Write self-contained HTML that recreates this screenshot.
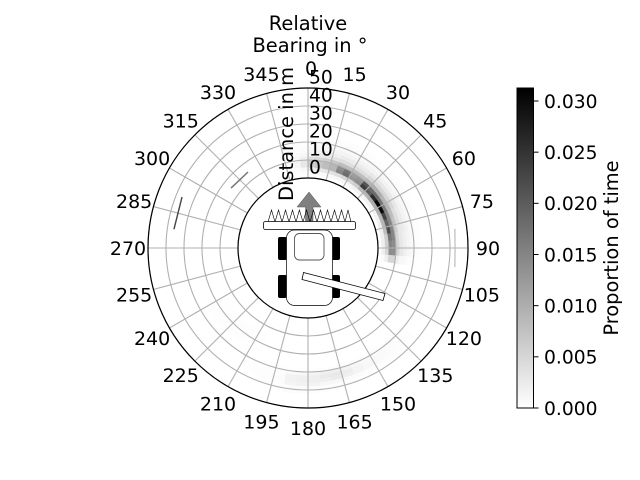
<!DOCTYPE html>
<html>
<head>
<meta charset="utf-8">
<title>Relative bearing and distance heatmap</title>
<style>
html,body{margin:0;padding:0;background:#fff;width:640px;height:480px;overflow:hidden}
svg{display:block}
text{font-family:"DejaVu Sans","Liberation Sans",sans-serif;font-size:19.44px;fill:#000}
.angle{font-size:19px}
.tick{font-size:18.7px}
</style>
</head>
<body>
<svg id="chart" width="640" height="480" viewBox="0 0 640 480">
<defs>
<linearGradient id="cbGrad" x1="0" y1="1" x2="0" y2="0">
<stop offset="0" stop-color="#ffffff"/>
<stop offset="1" stop-color="#000000"/>
</linearGradient>
</defs>
<g id="heat"></g>
<g id="grid"></g>
<g id="targets"></g>
<circle cx="308" cy="248" r="160" fill="none" stroke="#000" stroke-width="1.2"/>
<circle cx="308" cy="248" r="70" fill="#fff" stroke="#000" stroke-width="1.2"/>
<g id="vehicle">
<polygon points="309,192 321,207 313,207 313,221 305.500,221 305.500,207 297,207" fill="#808080" stroke="#555" stroke-width="0.5"/>
<polyline points="268,222 271.500,210 275,222 278.500,210 282,222 285.500,210 289,222 292.500,210 296,222 299.400,210 303,222 306.500,210 310,222 313.500,210 317,222 320.500,210 324,222 327.500,210 331,222 334.500,210 338,222 341.500,210 345,222 348,210 351,222" fill="none" stroke="#000" stroke-width="0.6"/>
<rect x="263.500" y="221.500" width="92" height="8" rx="2" fill="#fff" stroke="#000" stroke-width="0.8"/>
<rect x="278" y="237" width="9" height="23" rx="2" fill="#000"/>
<rect x="331" y="237" width="9" height="23" rx="2" fill="#000"/>
<rect x="278" y="275" width="9" height="23" rx="2" fill="#000"/>
<rect x="331" y="275" width="9" height="23" rx="2" fill="#000"/>
<rect x="286.500" y="230" width="46" height="75.500" rx="8" fill="#fff" stroke="#000" stroke-width="0.7"/>
<rect x="294.500" y="233.500" width="29.500" height="26.500" rx="5" fill="#fff" stroke="#555" stroke-width="0.9"/>
<polygon points="303.500,272.500 385,293.500 383,300.500 302,279.500" fill="#fff" stroke="#000" stroke-width="0.8"/>
</g>
<g id="angle-labels"></g>
<g id="radial-labels"></g>
<text x="308" y="30" text-anchor="middle">Relative</text>
<text x="310" y="52" text-anchor="middle">Bearing in °</text>
<text transform="translate(293,134) rotate(-90)" text-anchor="middle">Distance in m</text>
<rect x="517" y="88" width="16.500" height="320" fill="url(#cbGrad)" stroke="#000" stroke-width="1"/>
<g id="cb-ticks"></g>
<text transform="translate(618,248) rotate(-90)" text-anchor="middle">Proportion of time</text>
</svg>
<script>
// Chart data
const angleTicks = [0,15,30,45,60,75,90,105,120,135,150,165,180,195,210,225,240,255,270,285,300,315,330,345];
const distanceTicks = [0,10,20,30,40,50];
const colorbarTicks = [0,0.005,0.01,0.015,0.02,0.025,0.03];
const colorbarMax = 0.03127;
const binWidthBearing = 5;
const binWidthDistance = 2;

// Near band: values in units of 0.001 of time
const nearBearings = [345,350,355,0,5,10,15,20,25,30,35,40,45,50,55,60,65,70,75,80,85,90,95];
const nearDistances = [2,4,6,8,10,12,14,16,18,20,22];
const nearValues = [
[0,0.2,0.3,0.4,0.3,0.2,0.1,0.1,0,0,0],
[0.1,0.4,1,1.2,0.8,0.5,0.3,0.2,0.1,0,0],
[0.2,1,3,3,2,1,0.6,0.4,0.2,0.1,0],
[0.4,2.5,6,6,4,2,1.2,0.7,0.4,0.2,0.1],
[0.6,3,7,7,5,2.5,1.5,0.8,0.5,0.3,0.1],
[0.6,3,8,8,6,3,2,1,0.7,0.4,0.2],
[0.8,3.5,9,9,7,3.5,2,1.2,0.8,0.4,0.2],
[1,4,15,14,8,4,2.5,1.5,0.9,0.5,0.2],
[1,5,18,17,8,4,2.5,1.5,0.9,0.5,0.2],
[1,5,13,12,8,4,2.5,1.5,0.8,0.4,0.2],
[1.5,6,14,13,8,4,2.5,1.5,0.8,0.4,0.2],
[1.5,9,24,21,9,5,3,1.5,0.8,0.4,0.2],
[1.5,9,20,18,10,5,3,1.5,0.8,0.4,0.2],
[1.5,10,26,18,10,5,3,1.5,0.8,0.4,0.2],
[1.5,10,31,17,9,5,3,1.5,0.8,0.4,0.2],
[1.5,10,30,16,9,5,3,1.5,0.8,0.4,0.2],
[1.5,9,23,15,8,4,2.5,1.5,0.8,0.4,0.2],
[2,9,19,15,7,4,2.5,1.5,0.8,0.4,0.2],
[2,8,22,15,6,3,2.5,1.5,0.8,0.4,0.2],
[2,6,17,15,5,3,2,1.2,0.8,0.4,0.2],
[2,6,15,14,5,3,2,1.2,0.8,0.4,0.2],
[2,5,14,14,5,3,2,1.2,0.7,0.4,0.2],
[0.6,2,5,5,2,1,0.7,0.4,0.2,0.1,0]
];

// Far band behind the vehicle
const farBearings = [130,135,140,145,150,155,160,165,170,175,180,185,190,195,200,205];
const farDistances = [28,30,32,34,36,38,40];
const farValues = [
[0.1,0.2,0.2,0.2,0.1,0,0],
[0.2,0.3,0.4,0.3,0.2,0,0],
[0.2,0.4,0.6,0.5,0.3,0.1,0],
[0.2,0.5,0.7,0.7,0.3,0.1,0],
[0.3,0.7,0.9,0.9,0.4,0.1,0],
[0.3,1,1.3,1.3,0.5,0.1,0],
[0.3,1.5,2.2,2,0.6,0.2,0.1],
[0.3,2,2.8,2.4,0.8,0.2,0.1],
[0.2,1.8,2.4,2,1,0.3,0.2],
[0.2,1.4,2,2,1.4,0.4,0.3],
[0.1,1,1.8,1.8,1.6,0.5,0.4],
[0.1,0.6,1.6,1.6,1.4,0.4,0.4],
[0.1,0.3,0.4,0.5,0.4,0.2,0.1],
[0.1,0.2,0.3,0.3,0.2,0.1,0],
[0.1,0.1,0.2,0.2,0.1,0,0],
[0,0.1,0.1,0.1,0,0,0]
];

// Very faint patch at the lower left
const faintBearings = [205,210,215,220,225,230,235];
const faintDistances = [14,16,18,20,22,24];
const faintValues = [
[0.1,0.1,0.1,0.1,0.1,0.1],
[0.1,0.2,0.2,0.2,0.1,0.1],
[0.1,0.2,0.3,0.2,0.2,0.1],
[0.1,0.2,0.3,0.3,0.2,0.1],
[0.1,0.2,0.2,0.2,0.2,0.1],
[0.1,0.1,0.2,0.2,0.1,0.1],
[0.1,0.1,0.1,0.1,0.1,0.1]
];

// Thin line-shaped targets
const target90Bearings = [82.6,90,97.4];
const target90Distances = [43.4,42.8,43.4];
const target285Bearings = [278,285,292];
const target285Distances = [36.3,35.9,36.6];
const target315Bearings = [307.9,315,321.7];
const target315Distances = [15.3,14.7,14.9];

// Axis functions
const cx = 308, cy = 248;
function rScale(d){ return 70 + 1.8 * d; }
function px(b, r){ return cx + r * Math.sin(b * Math.PI / 180); }
function py(b, r){ return cy - r * Math.cos(b * Math.PI / 180); }
function cbY(v){ return 408 - 320 * v / colorbarMax; }
function grayFor(v){
  const g = Math.round(255 * (1 - Math.min(v / colorbarMax, 1)));
  return 'rgb(' + g + ',' + g + ',' + g + ')';
}
const NS = 'http://www.w3.org/2000/svg';

function drawHeat(bearings, distances, values){
  const parent = document.getElementById('heat');
  bearings.forEach(function(b, i){
    distances.forEach(function(d, j){
      const v = values[i][j] * 0.001;
      if (v <= 0) return;
      const r0 = rScale(d), r1 = rScale(d + binWidthDistance);
      const b1 = b + binWidthBearing;
      const p = 'M' + px(b, r0) + ' ' + py(b, r0) +
        'A' + r0 + ' ' + r0 + ' 0 0 1 ' + px(b1, r0) + ' ' + py(b1, r0) +
        'L' + px(b1, r1) + ' ' + py(b1, r1) +
        'A' + r1 + ' ' + r1 + ' 0 0 0 ' + px(b, r1) + ' ' + py(b, r1) + 'Z';
      const el = document.createElementNS(NS, 'path');
      el.setAttribute('d', p);
      el.setAttribute('fill', grayFor(v));
      el.setAttribute('stroke', grayFor(v));
      el.setAttribute('stroke-width', '0.3');
      
      
      parent.appendChild(el);
    });
  });
}
drawHeat(nearBearings, nearDistances, nearValues);
drawHeat(farBearings, farDistances, farValues);
drawHeat(faintBearings, faintDistances, faintValues);

const gridParent = document.getElementById('grid');
distanceTicks.forEach(function(d){
  const el = document.createElementNS(NS, 'circle');
  el.setAttribute('cx', cx);
  el.setAttribute('cy', cy);
  el.setAttribute('r', rScale(d));
  el.setAttribute('fill', 'none');
  el.setAttribute('stroke', '#b0b0b0');
  el.setAttribute('stroke-width', '1.1');
  
  
  gridParent.appendChild(el);
});
angleTicks.forEach(function(b){
  const el = document.createElementNS(NS, 'line');
  el.setAttribute('x1', px(b, rScale(0)));
  el.setAttribute('y1', py(b, rScale(0)));
  el.setAttribute('x2', px(b, rScale(50)));
  el.setAttribute('y2', py(b, rScale(50)));
  el.setAttribute('stroke', '#b0b0b0');
  el.setAttribute('stroke-width', '1.1');
  
  
  gridParent.appendChild(el);
});

function drawTarget(bearings, distances, color, width){
  const pts = bearings.map(function(b, i){
    const r = rScale(distances[i]);
    return px(b, r) + ',' + py(b, r);
  }).join(' ');
  const el = document.createElementNS(NS, 'polyline');
  el.setAttribute('points', pts);
  el.setAttribute('fill', 'none');
  el.setAttribute('stroke', color);
  el.setAttribute('stroke-width', width);
  
  
  document.getElementById('targets').appendChild(el);
}
drawTarget(target90Bearings, target90Distances, '#bdbdbd', 1.2);
drawTarget(target285Bearings, target285Distances, '#444444', 1.4);
drawTarget(target315Bearings, target315Distances, '#777777', 1.5);

angleTicks.forEach(function(b){
  const el = document.createElementNS(NS, 'text');
  el.setAttribute('x', px(b, 180) + (b === 0 ? 3 : 0));
  el.setAttribute('y', py(b, 180) + 6.8);
  el.setAttribute('text-anchor', 'middle');
  el.setAttribute('class', 'angle');
  
  
  el.textContent = String(b);
  document.getElementById('angle-labels').appendChild(el);
});

distanceTicks.forEach(function(d){
  const el = document.createElementNS(NS, 'text');
  el.setAttribute('x', 309);
  el.setAttribute('y', py(0, rScale(d)) - 4.5);
  el.setAttribute('class', 'tick');
  
  
  el.textContent = String(d);
  document.getElementById('radial-labels').appendChild(el);
});

colorbarTicks.forEach(function(v){
  const y = cbY(v);
  const tick = document.createElementNS(NS, 'line');
  tick.setAttribute('x1', 533.5);
  tick.setAttribute('x2', 538.5);
  tick.setAttribute('y1', y);
  tick.setAttribute('y2', y);
  tick.setAttribute('stroke', '#000');
  tick.setAttribute('stroke-width', '1');
  
  
  document.getElementById('cb-ticks').appendChild(tick);
  const label = document.createElementNS(NS, 'text');
  label.setAttribute('x', 544);
  label.setAttribute('y', y + 6.8);
  label.setAttribute('class', 'tick');
  
  
  label.textContent = v.toFixed(3);
  document.getElementById('cb-ticks').appendChild(label);
});
</script>
</body>
</html>
